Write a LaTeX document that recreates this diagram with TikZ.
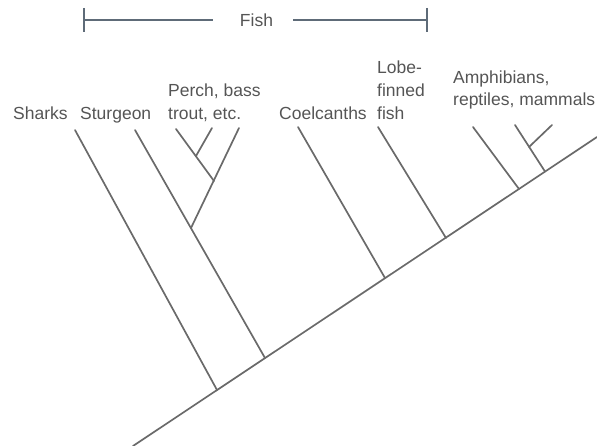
\documentclass[tikz,border=0pt]{standalone}
\usepackage{fontspec}
\setmainfont{Liberation Sans}
\usetikzlibrary{positioning}
\definecolor{trgray}{HTML}{555555}
\definecolor{trline}{HTML}{6A6A6A}
\definecolor{trbar}{HTML}{5E6B78}
\tikzset{
  taxon/.style={anchor=base west, inner sep=0pt, align=left, text=trgray,
    font=\fontsize{17.5}{23}\selectfont},
  branch/.style={trline, line width=1.7pt, line cap=round},
  bar/.style={trbar, line width=1.5pt},
}

\begin{document}
\begin{tikzpicture}[x=1pt, y=-1pt]
        \useasboundingbox (0,0) rectangle (597,446);
        % labels
        \node[taxon] (sharks) at (13,120) {Sharks};
        \node[taxon] (sturgeon) at (80,120) {Sturgeon};
        \node[taxon] (perch) at (168,120) {Perch, bass\\trout, etc.};
        \node[taxon] (coel) at (279,120) {Coelcanths};
        \node[taxon] (lobe) at (377,120) {Lobe-\\finned\\fish};
        \node[taxon, font=\fontsize{17.5}{22}\selectfont] (amph) at (453,106) {Amphibians,\\reptiles, mammals};
        % fish bracket
        \node[taxon, anchor=center] (fish) at (256.5,20) {Fish};
        \coordinate (fishL) at (84,20);
        \coordinate (fishLin) at (213,20);
        \coordinate (fishRin) at (293,20);
        \coordinate (fishR) at (427,20);
        \draw[bar] (fishL) -- (fishLin);
        \draw[bar] (fishRin) -- (fishR);
        \draw[bar] ([yshift=12pt]fishL) -- ([yshift=-12pt]fishL);
        \draw[bar] ([yshift=12pt]fishR) -- ([yshift=-12pt]fishR);
        % trunk and branch points
        \coordinate (root) at (133,446);
        \coordinate (tip) at (597,137);
        \coordinate (nSharks) at (217,390);
        \coordinate (nSturg) at (265,358);
        \coordinate (nCoel) at (385,278);
        \coordinate (nLobe) at (446,238);
        \coordinate (nAmph) at (519,189);
        \coordinate (nMam) at (545,171.5);
        \coordinate (nPerch) at (191,228);
        \coordinate (nPB) at (214,181);
        \coordinate (nBass) at (196,156);
        \coordinate (nRM) at (529,147);
        % leaf tips
        \coordinate (tSharks) at (75,130);
        \coordinate (tSturg) at (135,130);
        \coordinate (tPerch) at (176,129);
        \coordinate (tBass) at (212,128);
        \coordinate (tTrout) at (239,128);
        \coordinate (tCoel) at (298,127);
        \coordinate (tLobe) at (378,127);
        \coordinate (tAmph) at (473,127);
        \coordinate (tRept) at (515,125);
        \coordinate (tMam) at (552,125);
        \draw[branch] (root) -- (tip);
        \foreach \a/\b in {tSharks/nSharks, tSturg/nSturg, tTrout/nPerch,
            tPerch/nPB, tBass/nBass, tCoel/nCoel, tLobe/nLobe,
            tAmph/nAmph, tRept/nMam, tMam/nRM} {
          \draw[branch] (\a) -- (\b);
        }
      \end{tikzpicture}
\end{document}
